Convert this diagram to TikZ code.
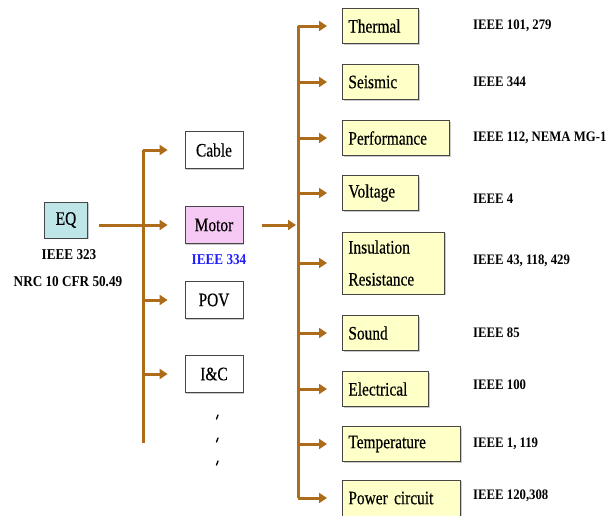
\documentclass[tikz,border=0pt]{standalone}
\usepackage{fontspec}
\setmainfont{Liberation Serif}
\newfontfamily\boxfont{Liberation Serif}[FakeStretch=0.81, FakeBold=0.4]
\newfontfamily\stdfont{Liberation Serif}[FakeStretch=0.88]
\usetikzlibrary{arrows.meta,shadows}
\definecolor{lineGray}{RGB}{70,70,70}
\definecolor{busBrown}{RGB}{172,108,28}
\definecolor{eqCyan}{RGB}{190,230,232}
\definecolor{motorPink}{RGB}{246,200,244}
\definecolor{specYellow}{RGB}{255,255,200}
\definecolor{stdBlue}{RGB}{30,30,255}

\begin{document}
\begin{tikzpicture}[
  x=1pt, y=-1pt,
  box/.style={draw=lineGray, line width=0.8pt, fill=white, inner sep=0pt,
    font=\boxfont\fontsize{19}{22}\selectfont,
    drop shadow={shadow xshift=1.2pt, shadow yshift=-1.2pt, fill=black!35, opacity=0.6}},
  item/.style={box, minimum width=58pt, minimum height=37pt},
  spec/.style={box, fill=specYellow, anchor=west, align=left, inner xsep=6pt, minimum height=35pt},
  stdlabel/.style={font=\stdfont\fontsize{14.5}{17}\selectfont\bfseries, anchor=west, inner xsep=0pt},
  biglabel/.style={font=\stdfont\fontsize{15}{17}\selectfont\bfseries},
  bus/.style={draw=busBrown, line width=3pt},
  flow/.style={bus, -{Triangle[length=8pt, width=10pt]}}
]
\useasboundingbox (0,0) rectangle (611,515);

% ------------------------------------------------------------------
% Left: EQ and equipment
% ------------------------------------------------------------------
\node[box, fill=eqCyan, minimum width=43pt, minimum height=36pt] (eq) at (66,220) {EQ};
\node[biglabel] (eqstd) at (69,255) {IEEE 323};
\node[biglabel] (eqnrc) at (68,282) {NRC 10 CFR 50.49};

\node[item] (cable) at (214,150) {Cable};
\node[item, fill=motorPink] (motor) at (214,225) {Motor};
\node[biglabel, text=stdBlue] (motorstd) at (219,260) {IEEE 334};
\node[item] (pov) at (214,300) {POV};
\node[item] (ic) at (214,374) {I\&C};

\foreach \y in {417,440,463}
  \draw[line width=1.3pt, line cap=round] (218,\y-2) -- (216.5,\y+2);

\coordinate (lbus) at (143,443);
\draw[bus] (lbus |- cable.west) -- (lbus);
\draw[flow, shorten <=11pt, shorten >=17pt] (eq.east |- motor.west) -- (motor.west);
\foreach \n in {cable,pov,ic}
  \draw[flow, shorten >=17pt] (lbus |- \n.west) -- (\n.west);

% ------------------------------------------------------------------
% Right: qualification items
% ------------------------------------------------------------------
\node[spec, text width=64pt] (thermal) at (342,26) {Thermal};
\node[spec, text width=64pt] (seismic) at (342,82) {Seismic};
\node[spec, text width=95pt] (perf) at (342,138) {Performance};
\node[spec, text width=64pt] (volt) at (342,193) {Voltage};
\node[spec, text width=90pt, minimum height=62pt] (insul) at (342,263) {Insulation\\[10pt]Resistance};
\node[spec, text width=64pt] (sound) at (342,333) {Sound};
\node[spec, text width=74pt] (elec) at (342,389) {Electrical};
\node[spec, text width=106pt] (temp) at (342,444) {Temperature};
\node[spec, text width=106pt, minimum height=36pt] (power) at (342,498) {Power circuit};

\node[stdlabel] (thermalstd) at (473,26) {IEEE 101, 279};
\node[stdlabel] (seismicstd) at (473,82) {IEEE 344};
\node[stdlabel] (perfstd) at (473,138) {IEEE 112, NEMA MG-1};
\node[stdlabel] (voltstd) at (473,199) {IEEE 4};
\node[stdlabel] (insulstd) at (473,261) {IEEE 43, 118, 429};
\node[stdlabel] (soundstd) at (473,333) {IEEE 85};
\node[stdlabel] (elecstd) at (473,385) {IEEE 100};
\node[stdlabel] (tempstd) at (473,444) {IEEE 1, 119};
\node[stdlabel] (powerstd) at (473,496) {IEEE 120,308};

\coordinate (rbus) at (298,0);
\draw[bus] (rbus |- thermal.west) -- (rbus |- power.west);
\draw[flow, shorten <=19pt, shorten >=2pt] (motor.east) -- (motor.east -| rbus);
\foreach \n in {thermal,seismic,perf,volt,insul,sound,elec,temp,power}
  \draw[flow, shorten >=15pt] (rbus |- \n.west) -- (\n.west);

\end{tikzpicture}
\end{document}
